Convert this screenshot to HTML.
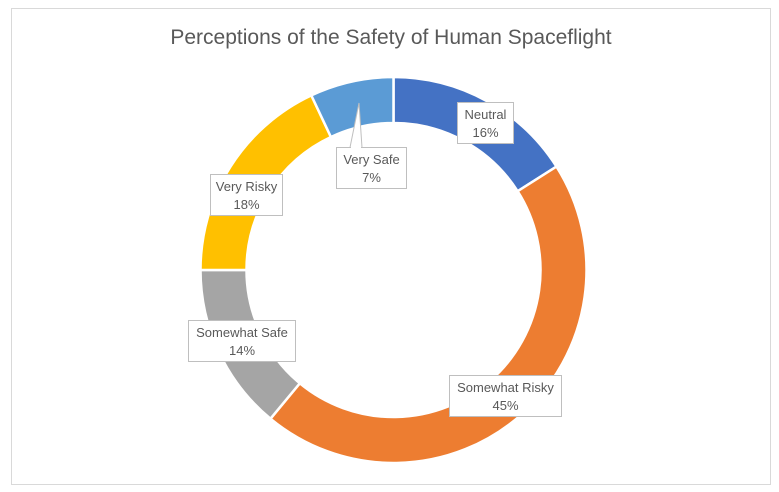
<!DOCTYPE html>
<html><head><meta charset="utf-8"><style>
body{margin:0;background:#fff;}
svg{display:block;font-family:"Liberation Sans",sans-serif;}
</style></head><body>
<svg id="s" width="779" height="492" xmlns="http://www.w3.org/2000/svg">
<rect x="0" y="0" width="779" height="492" fill="#fff"/>
<rect x="11.5" y="8.5" width="759" height="476" fill="#fff" stroke="#d9d9d9"/>
<text x="391" y="44" text-anchor="middle" font-size="21" fill="#595959">Perceptions of the Safety of Human Spaceflight</text>
<g id="d"></g>
<g font-size="13" fill="#595959" text-anchor="middle">
<rect x="457.5" y="102.5" width="56" height="41" fill="#fff" stroke="#bfbfbf"/>
<text x="485.5" y="119">Neutral</text><text x="485.5" y="137">16%</text>
<path d="M350 147.5 L359 103 L362 147.5" fill="#fff" stroke="#bfbfbf"/>
<rect x="336.5" y="147.5" width="70" height="41" fill="#fff" stroke="#bfbfbf"/>
<line x1="351" y1="147.5" x2="361" y2="147.5" stroke="#fff" stroke-width="2"/>
<text x="371.5" y="164">Very Safe</text><text x="371.5" y="182">7%</text>
<rect x="210.5" y="174.5" width="72" height="41" fill="#fff" stroke="#bfbfbf"/>
<text x="246.5" y="191">Very Risky</text><text x="246.5" y="209">18%</text>
<rect x="188.5" y="320.5" width="107" height="41" fill="#fff" stroke="#bfbfbf"/>
<text x="242" y="337">Somewhat Safe</text><text x="242" y="355">14%</text>
<rect x="449.5" y="375.5" width="112" height="41" fill="#fff" stroke="#bfbfbf"/>
<text x="505.5" y="392">Somewhat Risky</text><text x="505.5" y="410">45%</text>
</g>
</svg>
<script>
var cx=393.5,cy=270,R=193,r=147;
var data=[[16,"#4472C4"],[45,"#ED7D31"],[14,"#A5A5A5"],[18,"#FFC000"],[7,"#5B9BD5"]];
var a=0,g=document.getElementById("d"),h="";
function pt(rad,ang){return [(cx+rad*Math.sin(ang)).toFixed(2),(cy-rad*Math.cos(ang)).toFixed(2)];}
data.forEach(function(d){
 var a0=a/100*2*Math.PI;a+=d[0];var a1=a/100*2*Math.PI;
 var l=(a1-a0)>Math.PI?1:0;
 var p1=pt(R,a0),p2=pt(R,a1),p3=pt(r,a1),p4=pt(r,a0);
 h+='<path d="M'+p1+' A'+R+' '+R+' 0 '+l+' 1 '+p2+' L'+p3+' A'+r+' '+r+' 0 '+l+' 0 '+p4+' Z" fill="'+d[1]+'" stroke="#fff" stroke-width="2.5"/>';
});
g.innerHTML=h;
</script>
</body></html>
